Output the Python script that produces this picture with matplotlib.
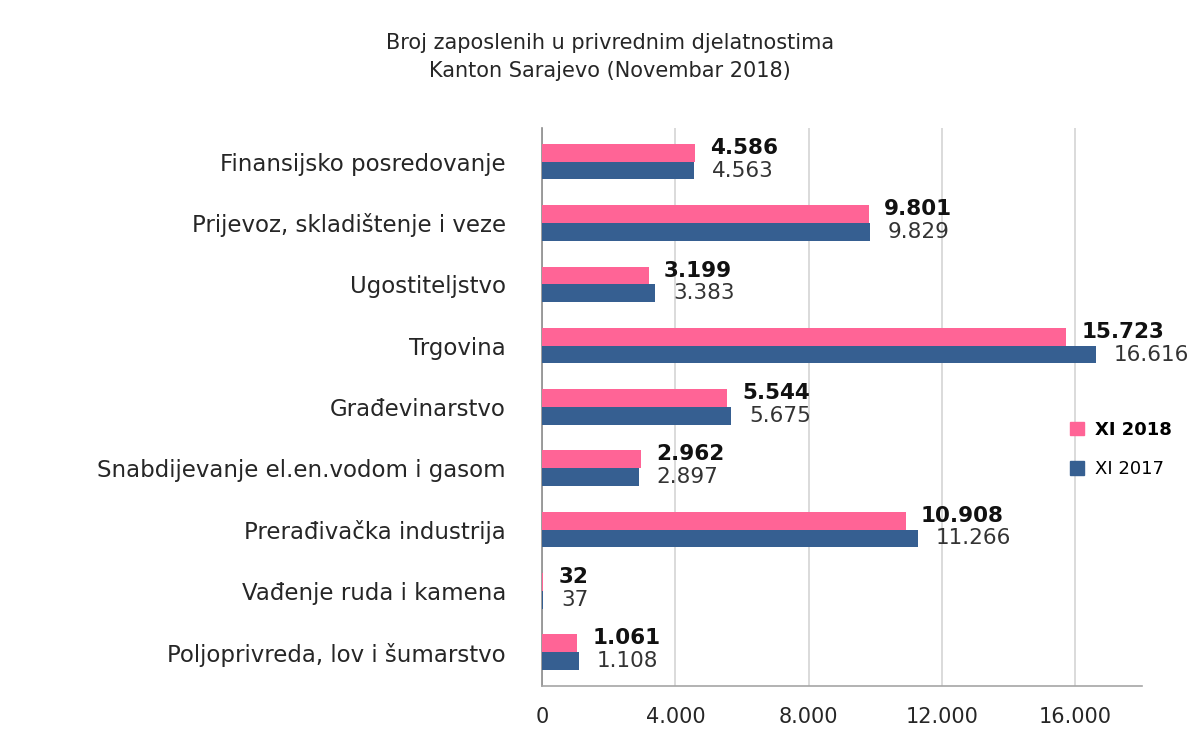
import matplotlib.pyplot as plt
import numpy as np
from matplotlib.ticker import FuncFormatter
from matplotlib.patches import Patch

# data (top to bottom as in the chart)
categories = ['Finansijsko posredovanje',
              'Prijevoz, skladištenje i veze',
              'Ugostiteljstvo',
              'Trgovina',
              'Građevinarstvo',
              'Snabdijevanje el.en.vodom i gasom',
              'Prerađivačka industrija',
              'Vađenje ruda i kamena',
              'Poljoprivreda, lov i šumarstvo']
xi_2018 = [4586, 9801, 3199, 15723, 5544, 2962, 10908, 32, 1061]
xi_2017 = [4563, 9829, 3383, 16616, 5675, 2897, 11266, 37, 1108]
x_ticks = [0, 4000, 8000, 12000, 16000]

pink = '#FF6496'
blue = '#365F91'
text_color = '#262626'
grid_color = '#D4D4D4'

plt.rcParams['font.family'] = ['DejaVu Sans']

def dot_thousands(v, pos=None):
    return '{:,.0f}'.format(v).replace(',', '.')

fig = plt.figure(figsize=(12, 7.31), dpi=100)
ax = fig.add_axes([0.4517, 0.0616, 0.5, 0.7634])

n = len(categories)
y = np.arange(n)[::-1]
h = 0.29

ax.barh(y + h / 2, xi_2018, height=h, color=pink, zorder=3)
ax.barh(y - h / 2, xi_2017, height=h, color=blue, zorder=3)

for yi, v in zip(y, xi_2018):
    ax.annotate(dot_thousands(v), (v, yi + h / 2 + 0.08), xytext=(11, 0),
                textcoords='offset points', va='center', ha='left',
                fontsize=15.5, fontweight='bold', color='#111111')
for yi, v in zip(y, xi_2017):
    ax.annotate(dot_thousands(v), (v, yi - h / 2), xytext=(13, 0),
                textcoords='offset points', va='center', ha='left',
                fontsize=15.5, color='#333333')

ax.set_xlim(0, 18000)
ax.set_ylim(-0.55, n - 0.45)
ax.set_xticks(x_ticks)
ax.xaxis.set_major_formatter(FuncFormatter(dot_thousands))
ax.set_yticks(y)
ax.set_yticklabels(categories)

ax.grid(axis='x', color=grid_color, linewidth=1.2, zorder=0)
ax.tick_params(axis='x', length=0, pad=15, labelsize=15, colors=text_color)
ax.tick_params(axis='y', length=0, pad=26, labelsize=16.5, colors=text_color)

for side in ['top', 'right']:
    ax.spines[side].set_visible(False)
ax.spines['left'].set_color('#8C8C8C')
ax.spines['bottom'].set_color('#A6A6A6')
ax.spines['left'].set_linewidth(1.2)
ax.spines['bottom'].set_linewidth(1.2)

handles = [Patch(color=pink, label='XI 2018'), Patch(color=blue, label='XI 2017')]
leg = fig.legend(handles=handles, loc='center left', bbox_to_anchor=(0.878, 0.385),
                 frameon=False, fontsize=13, handlelength=0.8, handleheight=0.8,
                 handletextpad=0.6, labelspacing=1.2)
leg.get_texts()[0].set_fontweight('bold')

fig.text(0.508, 0.922, 'Broj zaposlenih u privrednim djelatnostima\nKanton Sarajevo (Novembar 2018)',
         ha='center', va='center', fontsize=15, color=text_color, linespacing=1.45)

fig.savefig('out.png', dpi=100)
